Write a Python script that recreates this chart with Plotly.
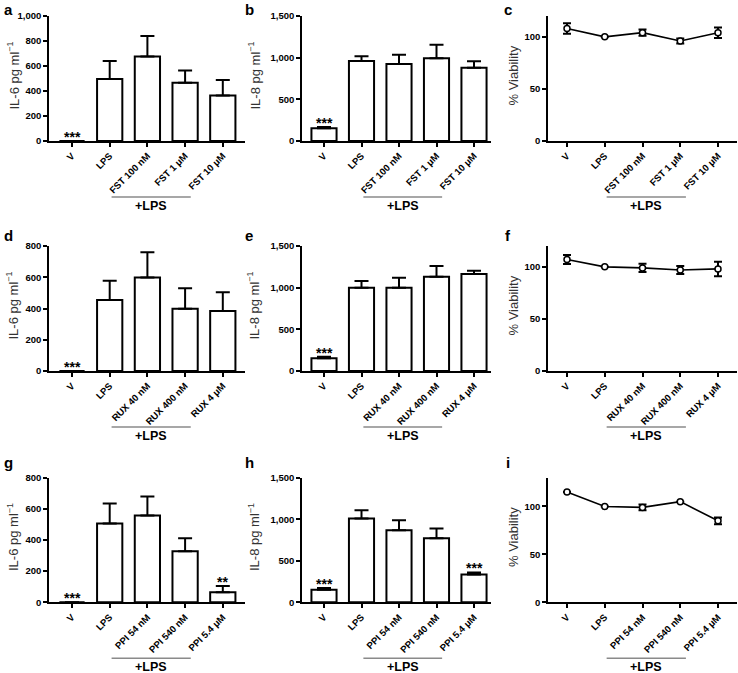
import plotly.graph_objects as go

W, H = 738, 673

# ---------------- data ----------------
fst_labels = ["V", "LPS", "FST 100 nM", "FST 1 μM", "FST 10 μM"]
rux_labels = ["V", "LPS", "RUX 40 nM", "RUX 400 nM", "RUX 4 μM"]
ppi_labels = ["V", "LPS", "PPI 54 nM", "PPI 540 nM", "PPI 5.4 μM"]

il6_fst = [0, 496, 677, 467, 365]
il6_fst_err = [0, 144, 163, 98, 123]
il8_fst = [152, 960, 924, 992, 880]
il8_fst_err = [16, 56, 112, 164, 76]
via_fst = [108, 100, 104, 96, 104]
via_fst_err = [5, 0, 3, 2.3, 5]

il6_rux = [0, 454, 599, 399, 384]
il6_rux_err = [0, 124, 161, 130, 120]
il8_rux = [152, 1000, 1000, 1132, 1164]
il8_rux_err = [20, 80, 120, 128, 40]
via_rux = [107, 100, 99, 97, 98]
via_rux_err = [4.3, 0, 4, 3.8, 7]

il6_ppi = [0, 506, 557, 328, 64]
il6_ppi_err = [0, 128, 123, 83, 40]
il8_ppi = [152, 1008, 868, 772, 336]
il8_ppi_err = [20, 100, 120, 116, 24]
via_ppi = [115, 100, 99, 105, 85]
via_ppi_err = [0, 0, 3, 0, 3.5]

sig_il6_fst = ["***", "", "", "", ""]
sig_il8_fst = ["***", "", "", "", ""]
sig_il6_rux = ["***", "", "", "", ""]
sig_il8_rux = ["***", "", "", "", ""]
sig_il6_ppi = ["***", "", "", "", "**"]
sig_il8_ppi = ["***", "", "", "", "***"]

il6_ticks = [0, 200, 400, 600, 800, 1000]
il8_ticks = [0, 500, 1000, 1500]
via_ticks = [0, 50, 100]

IL6_TITLE = "IL-6 pg ml<sup>−1</sup>"
IL8_TITLE = "IL-8 pg ml<sup>−1</sup>"
VIA_TITLE = "% Viability"

# ---------------- layout geometry (pixels) ----------------
col_px = [(49, 245), (302, 491), (548, 737)]
col_center0 = [72, 324, 567]
col_step = [37.7, 37.5, 37.75]
row_px = [(16, 141), (246, 371), (477.7, 602.3)]
letter_x = [8, 249, 508]
letter_y = [10, 236, 462]
ytitle_x = [13, 254, 513]


def px2x(px):
    return px / W


def px2y(py):
    return 1 - py / H


FONT = "Liberation Sans, Arial, sans-serif"

panels = [
    # row, col, kind, labels, values, errs, ymax, ticks, title, sig, letter
    (0, 0, "bar", fst_labels, il6_fst, il6_fst_err, 1000, il6_ticks, IL6_TITLE, sig_il6_fst, "a"),
    (0, 1, "bar", fst_labels, il8_fst, il8_fst_err, 1500, il8_ticks, IL8_TITLE, sig_il8_fst, "b"),
    (0, 2, "line", fst_labels, via_fst, via_fst_err, 120, via_ticks, VIA_TITLE, None, "c"),
    (1, 0, "bar", rux_labels, il6_rux, il6_rux_err, 800, il6_ticks[:-1], IL6_TITLE, sig_il6_rux, "d"),
    (1, 1, "bar", rux_labels, il8_rux, il8_rux_err, 1500, il8_ticks, IL8_TITLE, sig_il8_rux, "e"),
    (1, 2, "line", rux_labels, via_rux, via_rux_err, 120, via_ticks, VIA_TITLE, None, "f"),
    (2, 0, "bar", ppi_labels, il6_ppi, il6_ppi_err, 800, il6_ticks[:-1], IL6_TITLE, sig_il6_ppi, "g"),
    (2, 1, "bar", ppi_labels, il8_ppi, il8_ppi_err, 1500, il8_ticks, IL8_TITLE, sig_il8_ppi, "h"),
    (2, 2, "line", ppi_labels, via_ppi, via_ppi_err, 130, via_ticks, VIA_TITLE, None, "i"),
]

fig = go.Figure()
annotations = []
shapes = []
layout_axes = {}

for idx, (r, c, kind, labels, vals, errs, ymax, ticks, ytitle, sig, letter) in enumerate(panels):
    n = idx + 1
    xa = "x" if n == 1 else f"x{n}"
    ya = "y" if n == 1 else f"y{n}"
    xkey = "xaxis" if n == 1 else f"xaxis{n}"
    ykey = "yaxis" if n == 1 else f"yaxis{n}"

    x0p, x1p = col_px[c]
    y0p, y1p = row_px[r]
    c0, st = col_center0[c], col_step[c]
    xr = [(x0p - c0) / st, (x1p - c0) / st]

    if kind == "bar":
        fig.add_trace(go.Bar(
            x=labels, y=vals, xaxis=xa, yaxis=ya, width=0.67,
            marker=dict(color="white", line=dict(color="black", width=2)),
            error_y=dict(type="data", symmetric=False, array=errs,
                         arrayminus=[0] * len(errs), color="black",
                         thickness=2, width=7),
            showlegend=False, cliponaxis=False, hoverinfo="skip",
        ))
        for lab, v, e, s in zip(labels, vals, errs, sig):
            if s:
                annotations.append(dict(
                    x=lab, y=v + e, xref=xa, yref=ya, text=f"<b>{s}</b>",
                    showarrow=False, yanchor="bottom", yshift=-6,
                    font=dict(family=FONT, size=14, color="black")))
    else:
        fig.add_trace(go.Scatter(
            x=labels, y=vals, xaxis=xa, yaxis=ya, mode="lines+markers",
            line=dict(color="black", width=1.6),
            marker=dict(symbol="circle", size=6, color="white",
                        line=dict(color="black", width=1.5)),
            error_y=dict(type="data", array=errs, color="black",
                         thickness=2, width=4),
            showlegend=False, cliponaxis=False, hoverinfo="skip",
        ))

    layout_axes[xkey] = dict(
        domain=[px2x(x0p), px2x(x1p)], anchor=ya, type="category",
        range=xr, showline=True, linecolor="black", linewidth=1.5,
        ticks="outside", ticklen=4, tickwidth=1.5, tickcolor="black",
        tickangle=-45, showgrid=False, zeroline=False, automargin=False,
        tickfont=dict(family=FONT, size=9.5, color="black", weight="bold"),
    )
    layout_axes[ykey] = dict(
        domain=[px2y(y1p), px2y(y0p)], anchor=xa, range=[0, ymax],
        showline=True, linecolor="black", linewidth=1.5,
        ticks="outside", ticklen=4, tickwidth=1.5, tickcolor="black",
        tickvals=ticks, tickformat=",", showgrid=False, zeroline=False,
        automargin=False,
        tickfont=dict(family=FONT, size=9.5, color="black", weight="bold"),
    )

    # y title
    annotations.append(dict(
        x=px2x(ytitle_x[c]), y=px2y((y0p + y1p) / 2 - 3), xref="paper", yref="paper",
        text=ytitle, textangle=-90, showarrow=False,
        xanchor="center", yanchor="middle",
        font=dict(family=FONT, size=13, color="#333333")))
    # panel letter
    annotations.append(dict(
        x=px2x(letter_x[c]), y=px2y(letter_y[r]), xref="paper", yref="paper",
        text=f"<b>{letter}</b>", showarrow=False, xanchor="center", yanchor="middle",
        font=dict(family=FONT, size=15, color="black")))
    # +LPS bracket line and label
    lx0 = c0 + 1.05 * st
    lx1 = c0 + 3.15 * st
    shapes.append(dict(
        type="line", xref="paper", yref="paper",
        x0=px2x(lx0), x1=px2x(lx1), y0=px2y(y1p + 56), y1=px2y(y1p + 56),
        line=dict(color="#8a8a8a", width=1.5)))
    annotations.append(dict(
        x=px2x((lx0 + lx1) / 2), y=px2y(y1p + 65), xref="paper", yref="paper",
        text="<b>+LPS</b>", showarrow=False, xanchor="center", yanchor="middle",
        font=dict(family=FONT, size=12.5, color="black")))

fig.update_layout(
    width=W, height=H, margin=dict(l=0, r=0, t=0, b=0, autoexpand=False),
    paper_bgcolor="white", plot_bgcolor="white",
    annotations=annotations, shapes=shapes, showlegend=False,
    hovermode=False,
    **layout_axes,
)

fig.write_html(
    "out.html",
    config={"displayModeBar": False},
    post_script="document.body.style.margin='0';document.body.style.overflow='hidden';",
)
